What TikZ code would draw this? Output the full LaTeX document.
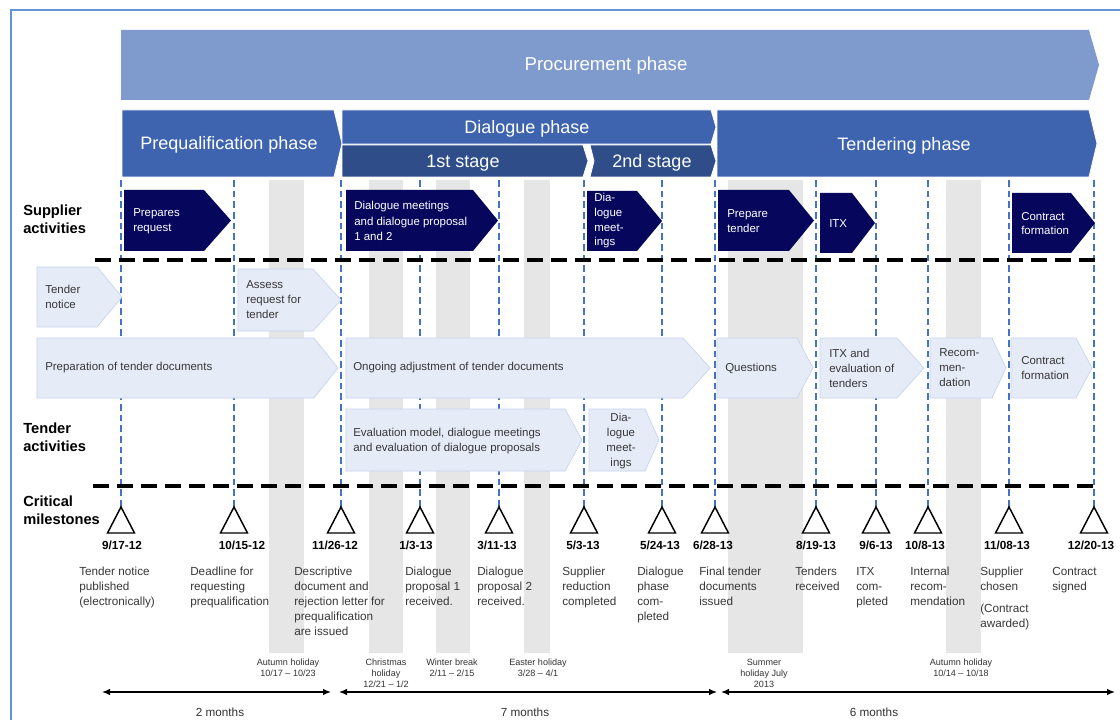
\documentclass[tikz,border=0pt]{standalone}
\usepackage{fontspec}
\setmainfont{Liberation Sans}
\usetikzlibrary{arrows.meta}
\definecolor{procc}{RGB}{127,154,204}
\definecolor{phasec}{RGB}{62,100,176}
\definecolor{stagec}{RGB}{47,78,137}
\definecolor{navyc}{RGB}{6,6,92}
\definecolor{lightc}{RGB}{229,235,247}
\definecolor{lightb}{RGB}{198,212,238}
\definecolor{bandc}{RGB}{230,230,230}
\definecolor{mlinec}{RGB}{68,114,196}
\definecolor{framec}{RGB}{100,150,215}
\newcommand{\chev}[6]{\path[#1] (#2,#3) -- (#4,#3) -- (#5,{(#3+#6)/2}) -- (#4,#6) -- (#2,#6) -- cycle;}
\tikzset{
  phasebox/.style={fill=phasec,draw=white,line width=0.6pt},
  procbox/.style={fill=procc},
  stagebox/.style={fill=stagec,draw=white,line width=0.6pt},
  supbox/.style={fill=navyc},
  tenbox/.style={fill=lightc,draw=lightb,line width=0.5pt},
  band/.style={fill=bandc},
  mline/.style={draw=mlinec,line width=1pt,dash pattern=on 5pt off 3pt},
  sepline/.style={draw=black,line width=2.4pt,dash pattern=on 12pt off 6pt},
  bigtxt/.style={text=white,font=\fontsize{13.5}{16}\selectfont,inner sep=0pt},
  stxt/.style={text=white,font=\fontsize{8.6}{11.5}\selectfont,align=left,anchor=west,inner sep=0pt},
  ttxt/.style={text=black!78,font=\fontsize{8.6}{11.25}\selectfont,align=left,anchor=west,inner sep=0pt},
  rowlab/.style={font=\bfseries\fontsize{11}{13.5}\selectfont,align=left,anchor=west,inner sep=0pt},
  datetxt/.style={font=\bfseries\fontsize{8.8}{10}\selectfont,inner sep=0pt},
  desctxt/.style={text=black!78,font=\fontsize{8.8}{11.25}\selectfont,align=left,anchor=north west,inner sep=0pt},
  holtxt/.style={text=black!80,font=\fontsize{6.8}{8.3}\selectfont,align=center,anchor=north,inner sep=0pt},
  montxt/.style={text=black!80,font=\fontsize{8.8}{10}\selectfont,inner sep=0pt},
  mstone/.style={draw=black,line width=1.1pt,fill=white},
  span/.style={draw=black,line width=1pt,{Latex[length=6pt,width=5pt]}-{Latex[length=6pt,width=5pt]}}
}
\begin{document}
\begin{tikzpicture}[x=0.75pt,y=-0.75pt]
\useasboundingbox (0,0) rectangle (1120,720);
\fill[white] (0,0) rectangle (1120,720);
% frame
\draw[framec,line width=0.8pt] (11,10) rectangle (1140,740);
% holiday bands
\foreach \a/\b in {269/304,369/403,436/470,524/550,728/803,946/981}
  \path[band] (\a,180) rectangle (\b,653);
% milestone lines
\foreach \x in {121,234,341,420,499,584,662,715,816,876,928,1009,1094}
  \draw[mline] (\x,180) -- (\x,507);
% top phases
\chev{procbox}{121}{30}{1089}{1099}{100}
\node[bigtxt,font=\fontsize{14}{16}\selectfont] (proc) at (606,66) {Procurement phase};
\chev{phasebox}{122}{110}{334}{342}{177}
\node[bigtxt] (preq) at (229,145) {Prequalification phase};
\chev{phasebox}{342}{110}{711}{716}{144}
\node[bigtxt] (dial) at (527,129) {Dialogue phase};
\chev{stagebox}{342}{145}{583}{588}{177}
\node[bigtxt] (st1) at (463,163) {1st stage};
\path[stagebox] (590,145) -- (711,145) -- (716,161) -- (711,177) -- (590,177) -- (594,161) -- cycle;
\node[bigtxt] (st2) at (652,163) {2nd stage};
\chev{phasebox}{717}{110}{1089}{1097}{177}
\node[bigtxt] (tend) at (904,146) {Tendering phase};
% row labels
\node[rowlab] (lsup) at (23,219) {Supplier\\activities};
\node[rowlab] (lten) at (23,437) {Tender\\activities};
\node[rowlab] (lmil) at (23,510) {Critical\\milestones};
% supplier activities
\chev{supbox}{124}{190}{204}{231}{251}
\node[stxt] (s1) at (133,221) {Prepares\\request};
\chev{supbox}{346}{190}{473}{498}{251}
\node[stxt] (s2) at (354,221) {Dialogue meetings\\and dialogue proposal\\1 and 2};
\chev{supbox}{587}{191}{637}{662}{251}
\node[stxt,font=\fontsize{8.6}{11}\selectfont] (s3) at (594,221) {Dia-\\logue\\meet-\\ings};
\chev{supbox}{718}{190}{789}{814}{251}
\node[stxt] (s4) at (727,221) {Prepare\\tender};
\chev{supbox}{820}{193}{852}{875}{253}
\node[stxt] (s5) at (829,224) {ITX};
\chev{supbox}{1012}{193}{1071}{1095}{253}
\node[stxt,font=\fontsize{8.6}{10.5}\selectfont] (s6) at (1021,224) {Contract\\formation};
% tender activities
\chev{tenbox}{37}{267}{97}{122}{327}
\node[ttxt] (t1) at (45,297) {Tender\\notice};
\chev{tenbox}{238}{269}{313}{341}{331}
\node[ttxt] (t2) at (246,300) {Assess\\request for\\tender};
\chev{tenbox}{37}{338}{314}{338}{398}
\node[ttxt] (t3) at (45,368) {Preparation of tender documents};
\chev{tenbox}{346}{338}{683}{710}{398}
\node[ttxt] (t4) at (353,368) {Ongoing adjustment of tender documents};
\chev{tenbox}{717}{338}{797}{813}{398}
\node[ttxt] (t5) at (725,368) {Questions};
\chev{tenbox}{820}{338}{897}{924}{398}
\node[ttxt] (t6) at (829,368) {ITX and\\evaluation of\\tenders};
\chev{tenbox}{930}{338}{992}{1006}{398}
\node[ttxt] (t7) at (939,368) {Recom-\\men-\\dation};
\chev{tenbox}{1011}{338}{1076}{1092}{398}
\node[ttxt] (t8) at (1021,368) {Contract\\formation};
\chev{tenbox}{346}{409}{565}{582}{471}
\node[ttxt] (t9) at (353,441) {Evaluation model, dialogue meetings\\and evaluation of dialogue proposals};
\chev{tenbox}{589}{409}{645}{659}{471}
\node[ttxt,align=center,anchor=center] (t10) at (621,441) {Dia-\\logue\\meet-\\ings};
% separator lines
\draw[sepline] (95,260) -- (1097,260);
\draw[sepline] (93,486) -- (1097,486);
% milestones
\foreach \x in {121,234,341,420,499,584,662,715,816,876,928,1009,1094}
  \path[mstone] (\x,507) -- (\x+13.5,533) -- (\x-13.5,533) -- cycle;
\node[datetxt] (d1) at (122,545) {9/17-12};
\node[datetxt] (d2) at (242,545) {10/15-12};
\node[datetxt] (d3) at (335,545) {11/26-12};
\node[datetxt] (d4) at (416,545) {1/3-13};
\node[datetxt] (d5) at (497,545) {3/11-13};
\node[datetxt] (d6) at (583,545) {5/3-13};
\node[datetxt] (d7) at (660,545) {5/24-13};
\node[datetxt] (d8) at (713,545) {6/28-13};
\node[datetxt] (d9) at (816,545) {8/19-13};
\node[datetxt] (d10) at (876,545) {9/6-13};
\node[datetxt] (d11) at (925,545) {10/8-13};
\node[datetxt] (d12) at (1007,545) {11/08-13};
\node[datetxt] (d13) at (1091,545) {12/20-13};
\node[desctxt] (m1) at (79,567) {Tender notice\\published\\(electronically)};
\node[desctxt] (m2) at (190,567) {Deadline for\\requesting\\prequalification};
\node[desctxt] (m3) at (294,567) {Descriptive\\document and\\rejection letter for\\prequalification\\are issued};
\node[desctxt] (m4) at (405,567) {Dialogue\\proposal 1\\received.};
\node[desctxt] (m5) at (477,567) {Dialogue\\proposal 2\\received.};
\node[desctxt] (m6) at (562,567) {Supplier\\reduction\\completed};
\node[desctxt] (m7) at (637,567) {Dialogue\\phase\\com-\\pleted};
\node[desctxt] (m8) at (699,567) {Final tender\\documents\\issued};
\node[desctxt] (m9) at (795,567) {Tenders\\received};
\node[desctxt] (m10) at (856,567) {ITX\\com-\\pleted};
\node[desctxt] (m11) at (910,567) {Internal\\recom-\\mendation};
\node[desctxt] (m12) at (980,567) {Supplier\\chosen\\[5pt](Contract\\awarded)};
\node[desctxt] (m13) at (1052,567) {Contract\\signed};
% holidays
\node[holtxt] (h1) at (288,659) {Autumn holiday\\10/17 -- 10/23};
\node[holtxt] (h2) at (386,659) {Christmas\\holiday\\12/21 -- 1/2};
\node[holtxt] (h3) at (452,659) {Winter break\\2/11 -- 2/15};
\node[holtxt] (h4) at (538,659) {Easter holiday\\3/28 -- 4/1};
\node[holtxt] (h5) at (764,659) {Summer\\holiday July\\2013};
\node[holtxt] (h6) at (961,659) {Autumn holiday\\10/14 -- 10/18};
% spans
\coordinate (a1) at (102,692); \coordinate (b1) at (331,692);
\coordinate (a2) at (339,692); \coordinate (b2) at (717,692);
\coordinate (a3) at (721,692); \coordinate (b3) at (1115,692);
\draw[span] (a1) -- (b1);
\draw[span] (a2) -- (b2);
\draw[span] (a3) -- (b3);
\node[montxt] (n1) at (220,712) {2 months};
\node[montxt] (n2) at (525,712) {7 months};
\node[montxt] (n3) at (874,712) {6 months};
\end{tikzpicture}
\end{document}
